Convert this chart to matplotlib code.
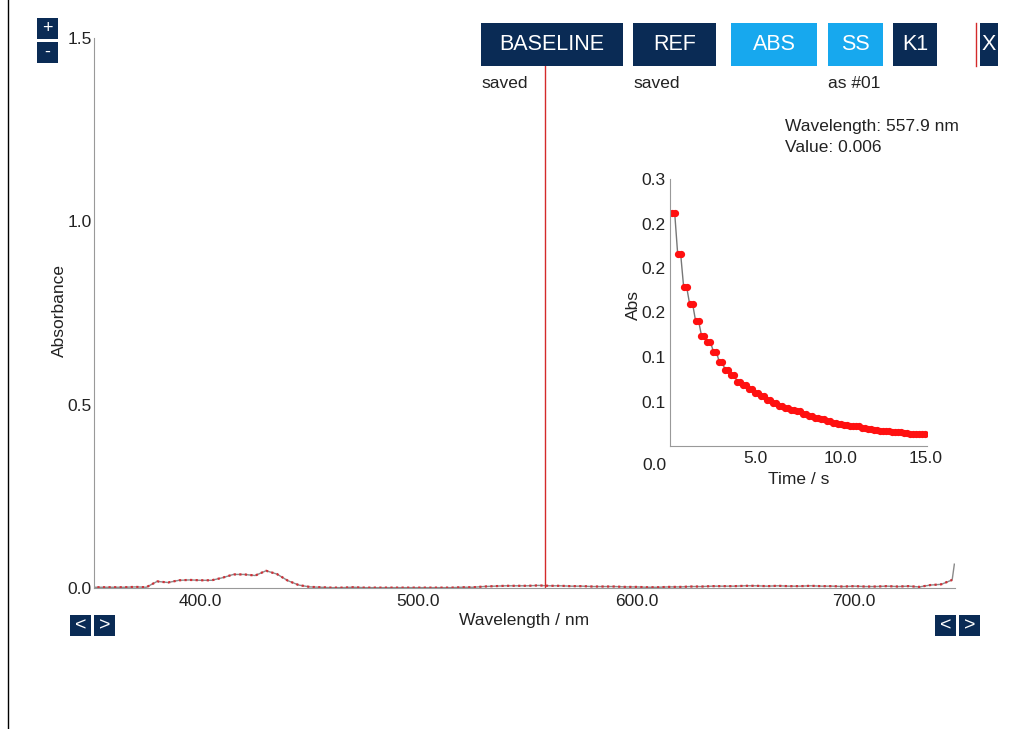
import numpy as np
import matplotlib
matplotlib.use('Agg')
import matplotlib.pyplot as plt
from matplotlib.patches import Rectangle
from matplotlib.lines import Line2D

plt.rcParams['font.family'] = ['Liberation Sans', 'DejaVu Sans']

W, H = 1013, 729
NAVY = '#0a2b55'
SKY = '#17a8ee'
TXT = '#222222'
FS = 12.5

# spectrum, 350-745 nm every 5 nm, plus the spike at the end
wavelength = list(range(350, 750, 5)) + [746]
absorbance = [
    0.002, 0.002, 0.002, 0.002, 0.003, 0.002, 0.018, 0.015, 0.021, 0.022,  # 350-395
    0.021, 0.021, 0.028, 0.037, 0.037, 0.034, 0.047, 0.038, 0.020, 0.008,  # 400-445
    0.003, 0.002, 0.001, 0.001, 0.002, 0.001, 0.001, 0.001, 0.001, 0.001,  # 450-495
    0.001, 0.001, 0.001, 0.001, 0.002, 0.002, 0.004, 0.005, 0.006, 0.006,  # 500-545
    0.006, 0.007, 0.006, 0.006, 0.005, 0.005, 0.004, 0.004, 0.004, 0.003,  # 550-595
    0.003, 0.002, 0.002, 0.003, 0.003, 0.004, 0.004, 0.005, 0.005, 0.005,  # 600-645
    0.006, 0.006, 0.005, 0.006, 0.005, 0.005, 0.006, 0.005, 0.005, 0.004,  # 650-695
    0.005, 0.004, 0.004, 0.005, 0.004, 0.005, 0.003, 0.008, 0.010, 0.022,  # 700-745
    0.065,
]
cursor_wl = 557.9

# kinetics inset: readings come in pairs
kin_levels = [0.262, 0.216, 0.179, 0.160, 0.141, 0.124, 0.117, 0.106, 0.094, 0.085,
              0.080, 0.072, 0.068, 0.064, 0.060, 0.056, 0.052, 0.048, 0.045, 0.043,
              0.041, 0.039, 0.036, 0.034, 0.032, 0.030, 0.028, 0.026, 0.025, 0.024,
              0.023, 0.022, 0.020, 0.019, 0.018, 0.017, 0.017, 0.016, 0.0155, 0.015,
              0.014, 0.014, 0.0137]
kin_abs = np.repeat(kin_levels, 2)
kin_time = np.arange(len(kin_abs)) * 0.175 + 0.1

main_xticks = [400, 500, 600, 700]
main_xlabels = ['400.0', '500.0', '600.0', '700.0']
main_yticks = [0.0, 0.5, 1.0, 1.5]
main_ylabels = ['0.0', '0.5', '1.0', '1.5']
kin_xticks = [5, 10, 15]
kin_xlabels = ['5.0', '10.0', '15.0']
kin_yticks = [0.05, 0.10, 0.15, 0.20, 0.25, 0.30]
kin_ylabels = ['0.1', '0.1', '0.2', '0.2', '0.2', '0.3']


def fx(px):
    return px / W


def fy(py):
    return 1 - py / H


def button(fig, x, y, w, h, label, color, fs=15.5):
    fig.add_artist(Rectangle((fx(x), fy(y + h)), w / W, h / H, transform=fig.transFigure,
                             facecolor=color, edgecolor='none', zorder=5))
    fig.text(fx(x + w / 2), fy(y + h / 2), label, color='white', ha='center', va='center',
             fontsize=fs, zorder=6)


fig = plt.figure(figsize=(W / 100, H / 100), dpi=100)

# main spectrum
ax = fig.add_axes([fx(94), fy(588), 861 / W, 550 / H])
ax.plot(wavelength, absorbance, color='#8a8a8a', lw=1)
ax.plot(wavelength[:-1], absorbance[:-1], color='#d03038', lw=1.6, ls=(0, (1, 1.5)))
ax.axvline(cursor_wl, color='#d42a2a', lw=1)
ax.set_xlim(351, 746.3)
ax.set_ylim(0, 1.5)
for s in ['top', 'right']:
    ax.spines[s].set_visible(False)
for s in ['left', 'bottom']:
    ax.spines[s].set_color('#999999')
ax.set_xticks(main_xticks)
ax.set_xticklabels(main_xlabels)
ax.set_yticks(main_yticks)
ax.set_yticklabels(main_ylabels)
ax.tick_params(axis='x', length=0, pad=4.3, labelsize=FS, labelcolor=TXT)
ax.tick_params(axis='y', length=0, pad=1.5, labelsize=FS, labelcolor=TXT)
ax.set_xlabel('Wavelength / nm', fontsize=FS, color=TXT)
ax.set_ylabel('Absorbance', fontsize=FS, color=TXT)
ax.xaxis.set_label_coords(0.5, -0.045)
ax.yaxis.set_label_coords(-0.031, 0.505)

# kinetics inset
ax_in = fig.add_axes([fx(670), fy(446), 257 / W, 267 / H])
ax_in.plot(kin_time, kin_abs, color='#777777', lw=1, marker='o', ms=4.2,
           mfc='#ff1010', mec='#ff1010')
ax_in.set_xlim(0, 15.1)
ax_in.set_ylim(0, 0.3)
for s in ['top', 'right']:
    ax_in.spines[s].set_visible(False)
for s in ['left', 'bottom']:
    ax_in.spines[s].set_color('#999999')
ax_in.set_xticks(kin_xticks)
ax_in.set_xticklabels(kin_xlabels)
ax_in.set_yticks(kin_yticks)
ax_in.set_yticklabels(kin_ylabels)
ax_in.tick_params(axis='x', length=0, pad=3.6, labelsize=FS, labelcolor=TXT)
ax_in.tick_params(axis='y', length=0, pad=3, labelsize=FS, labelcolor=TXT)
ax_in.set_xlabel('Time / s', fontsize=FS, color=TXT)
ax_in.set_ylabel('Abs', fontsize=FS, color=TXT)
ax_in.xaxis.set_label_coords(0.5, -0.097)
ax_in.yaxis.set_label_coords(-0.113, 0.528)
fig.text(fx(654), fy(465), '0.0', ha='center', va='center', fontsize=FS, color=TXT)

# cursor readout
fig.text(fx(785), fy(126), 'Wavelength: 557.9 nm', ha='left', va='center', fontsize=FS, color=TXT)
fig.text(fx(785), fy(148), 'Value: 0.006', ha='left', va='center', fontsize=FS, color=TXT)

# toolbar buttons
button(fig, 481, 23, 142, 43, 'BASELINE', NAVY)
button(fig, 633, 23, 83, 43, 'REF', NAVY)
button(fig, 731, 23, 86, 43, 'ABS', SKY)
button(fig, 828, 23, 55, 43, 'SS', SKY)
button(fig, 893, 23, 44, 43, 'K1', NAVY)
button(fig, 980, 23, 18, 43, 'X', NAVY)
fig.add_artist(Line2D([fx(975.5), fx(975.5)], [fy(23), fy(66)], transform=fig.transFigure,
                      color='#d42a2a', lw=1))
fig.text(fx(481), fy(83), 'saved', ha='left', va='center', fontsize=FS, color=TXT)
fig.text(fx(633), fy(83), 'saved', ha='left', va='center', fontsize=FS, color=TXT)
fig.text(fx(828), fy(83), 'as #01', ha='left', va='center', fontsize=FS, color=TXT)

# zoom and scroll buttons
button(fig, 37, 18, 21, 21, '+', NAVY, fs=13)
button(fig, 37, 42, 21, 21, '-', NAVY, fs=13)
button(fig, 70, 615, 21, 21, '<', NAVY, fs=14)
button(fig, 94, 615, 21, 21, '>', NAVY, fs=14)
button(fig, 935, 615, 21, 21, '<', NAVY, fs=14)
button(fig, 959, 615, 21, 21, '>', NAVY, fs=14)

# page border on the left
fig.add_artist(Line2D([fx(7.5), fx(7.5)], [0, 1], transform=fig.transFigure, color='black', lw=1))

fig.savefig('out.png', dpi=100)
